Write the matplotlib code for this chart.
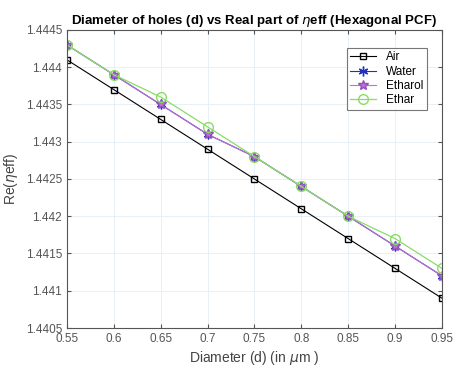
import matplotlib
matplotlib.use('Agg')
import matplotlib.pyplot as plt

plt.rcParams['font.family'] = ['Liberation Sans', 'DejaVu Sans']
plt.rcParams['mathtext.fontset'] = 'dejavusans'

diameter = [0.55, 0.6, 0.65, 0.7, 0.75, 0.8, 0.85, 0.9, 0.95]
air = [1.4441, 1.4437, 1.4433, 1.4429, 1.4425, 1.4421, 1.4417, 1.4413, 1.4409]
water = [1.4443, 1.4439, 1.4435, 1.4431, 1.4428, 1.4424, 1.4420, 1.4416, 1.4412]
ethanol = [1.4443, 1.4439, 1.4435, 1.4431, 1.4428, 1.4424, 1.4420, 1.4416, 1.4412]
ether = [1.4443, 1.4439, 1.4436, 1.4432, 1.4428, 1.4424, 1.4420, 1.4417, 1.4413]

xticks = [0.55, 0.6, 0.65, 0.7, 0.75, 0.8, 0.85, 0.9, 0.95]
yticks = [1.4405, 1.441, 1.4415, 1.442, 1.4425, 1.443, 1.4435, 1.444, 1.4445]

fig = plt.figure(figsize=(4.58, 3.70), dpi=100)
ax = fig.add_axes([0.146, 0.1135, 0.819, 0.8055])

ax.plot(diameter, air, color='black', marker='s', mfc='none', ms=5, lw=0.8, label='Air')
ax.plot(diameter, water, color='#2233bb', marker=(6, 2, 0), ms=7, mew=1.0, lw=0.8, label='Water')
ax.plot(diameter, ethanol, color='#c070d0', marker='*', mec='#9050c0', ms=7, lw=0.8, label='Etharol')
ax.plot(diameter, ether, color='#88dd66', marker='o', mfc='none', ms=7, lw=0.9, label='Ethar')

ax.set_xlim(0.55, 0.95)
ax.set_ylim(1.4405, 1.4445)
ax.set_xticks(xticks)
ax.set_xticklabels([('%g' % v) for v in xticks])
ax.set_yticks(yticks)
ax.set_yticklabels([('%g' % v) for v in yticks])
ax.grid(True, color='#e4ecf4', lw=0.6)
ax.tick_params(direction='in', top=True, right=True, labelsize=8.5, colors='#555555', length=3)
for s in ax.spines.values():
    s.set_color('#555555')
    s.set_linewidth(0.8)

ax.set_title(r'Diameter of holes (d) vs Real part of $\eta$eff (Hexagonal PCF)', fontsize=9.5, fontweight='bold', pad=4)
ax.set_xlabel(r'Diameter (d) (in $\mu$m )', fontsize=10, color='#444444', labelpad=3)
ax.set_ylabel(r'Re($\eta$eff)', fontsize=10, color='#444444', labelpad=4)

leg = ax.legend(loc='upper right', fontsize=8.5, fancybox=False, edgecolor='#555555',
                handlelength=2.2, borderpad=0.3, labelspacing=0.2, bbox_to_anchor=(0.975, 0.96))
leg.get_frame().set_linewidth(0.8)

fig.savefig('out.png', dpi=100)
